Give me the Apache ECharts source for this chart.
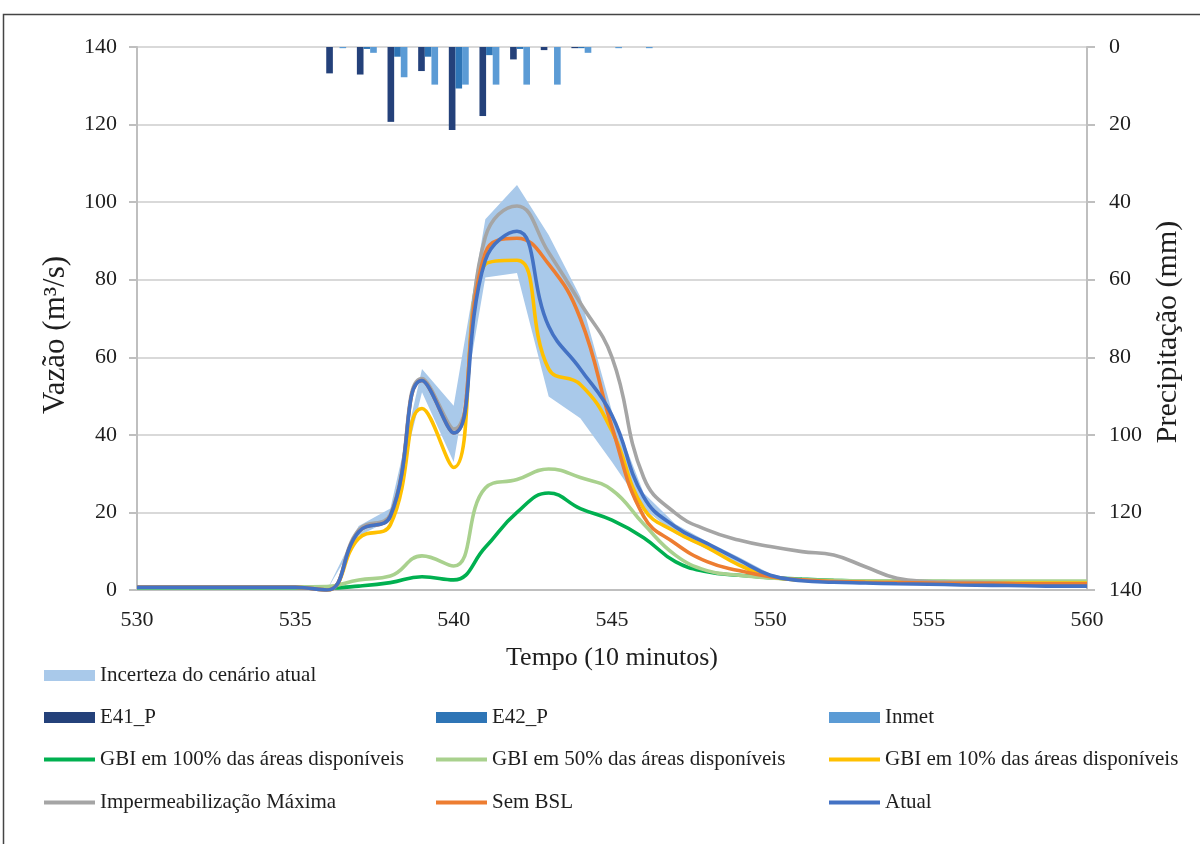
<!DOCTYPE html>
<html><head><meta charset="utf-8">
<script src="https://cdn.jsdelivr.net/npm/echarts@6/dist/echarts.min.js"></script>
<style>html,body{margin:0;padding:0;background:#fff}#c{width:1200px;height:844px}</style>
</head><body><div id="c"></div>
<script>
// ---- data ----
const tempo = [530,531,532,533,534,535,536,537,538,539,540,541,542,543,544,545,546,547,548,549,550,551,552,553,554,555,556,557,558,559,560];
const xTickLabels = [530,535,540,545,550,555,560];
const yLeftTicks = [0,20,40,60,80,100,120,140];

const incertezaInferior = [0.7,0.7,0.7,0.7,0.7,0.7,0,14,18,51,33,80.6,81.7,49.9,44.3,33,21,14.5,10.5,6.5,3.4,2.4,2.0,1.8,1.6,1.5,1.3,1.2,1.1,1.0,1.0];
const incertezaSuperior = [0.7,0.7,0.7,0.7,0.7,0.7,0,16.5,21,57,47.5,95.6,104.4,91.5,75.6,46,25,17,12.5,8.5,4.2,2.4,2.0,1.8,1.6,1.5,1.3,1.2,1.1,1.0,1.0];

const e41P  = [0,0,0,0,0,0,6.8,7.1,19.3,6.2,21.4,17.8,3.2,0.8,0.3,0,0,0,0,0,0,0,0,0,0,0,0,0,0,0,0];
const e42P  = [0,0,0,0,0,0,0,0.5,2.5,2.5,10.7,2.1,0.5,0,0.3,0,0,0,0,0,0,0,0,0,0,0,0,0,0,0,0];
const inmet = [0,0,0,0,0,0,0.3,1.5,7.8,9.7,9.7,9.7,9.7,9.7,1.5,0.3,0.3,0,0,0,0,0,0,0,0,0,0,0,0,0,0];

const gbi100 = [0.6,0.6,0.6,0.6,0.6,0.6,0.5,1.0,1.9,3.4,2.6,11,20,25,21,18,13.5,7.3,4.7,3.8,3.2,2.8,2.5,2.3,2.2,2.2,2.1,2.1,2.1,2.1,2.1];
const gbi50  = [0.8,0.8,0.8,0.8,0.8,0.8,0.9,2.6,3.6,8.8,6.2,26.3,28.5,31.2,29,25.8,17,9,5,3.8,3.1,2.7,2.5,2.4,2.4,2.3,2.3,2.3,2.3,2.3,2.3];
const gbi10  = [0.7,0.7,0.7,0.7,0.7,0.7,0,13.3,16.8,46.8,31.6,84,85,57,53,41,21,15,11,6.5,3.5,2.5,2.2,2.0,1.9,1.9,1.8,1.8,1.8,1.8,1.8];
const impermMax = [0.7,0.7,0.7,0.7,0.7,0.7,0,15.5,19.5,54.5,41.5,91,99,87,74,60,29,19.8,15.5,12.9,11.2,9.9,9.0,6.0,3.0,2.2,2.0,1.8,1.6,1.5,1.4];
const semBSL = [0.7,0.7,0.7,0.7,0.7,0.7,0,15,19,54,40.5,87,90.7,84,70,42,19,12,7.3,5.0,3.4,2.6,2.2,2.0,1.9,1.8,1.7,1.7,1.6,1.6,1.6];
const atual  = [0.7,0.7,0.7,0.7,0.7,0.7,0,15,19,54,40.5,85,92.5,68,57,45,24,16.3,12,7.8,3.8,2.4,2.0,1.8,1.6,1.5,1.3,1.2,1.1,1.0,1.0];

const names = {
  band: 'Incerteza do cenário atual',
  e41: 'E41_P', e42: 'E42_P', inmet: 'Inmet',
  g100: 'GBI em 100% das áreas disponíveis',
  g50: 'GBI em 50% das áreas disponíveis',
  g10: 'GBI em 10% das áreas disponíveis',
  imp: 'Impermeabilização Máxima',
  sem: 'Sem BSL',
  atual: 'Atual'
};
const titles = { x: 'Tempo (10 minutos)', yLeft: 'Vazão (m³/s)', yRight: 'Precipitação (mm)' };

// ---- chart ----
const FONT = '"Liberation Serif", "Times New Roman", serif';
const TXT = '#1e1e1e';
const pair = arr => tempo.map((t, i) => [t, arr[i]]);

const colors = {
  band: '#a9c9ea', e41: '#24417a', e42: '#2e75b6', inmet: '#5b9bd5',
  g100: '#00b050', g50: '#a9d18e', g10: '#ffc000', imp: '#a5a5a5', sem: '#ed7d31', atual: '#4472c4'
};

function lineSeries(key, arr) {
  return {
    name: names[key], type: 'line', xAxisIndex: 0, yAxisIndex: 0,
    data: pair(arr), smooth: 0.45, symbol: 'none', showSymbol: false,
    lineStyle: { color: colors[key], width: 3.6 }, itemStyle: { color: colors[key] },
    z: 5, animation: false
  };
}
function barSeries(key, arr) {
  return {
    name: names[key], type: 'bar', xAxisIndex: 1, yAxisIndex: 1,
    data: arr, barGap: '0%', barCategoryGap: '35%',
    itemStyle: { color: colors[key] }, z: 3, animation: false
  };
}

const legendCells = [
  { key: 'band', left: 44, top: 677, h: 11 },
  { key: 'e41', left: 44, top: 719, h: 11 },
  { key: 'e42', left: 436, top: 719, h: 11 },
  { key: 'inmet', left: 829, top: 719, h: 11 },
  { key: 'g100', left: 44, top: 761, h: 4 },
  { key: 'g50', left: 436, top: 761, h: 4 },
  { key: 'g10', left: 829, top: 761, h: 4 },
  { key: 'imp', left: 44, top: 804, h: 4 },
  { key: 'sem', left: 436, top: 804, h: 4 },
  { key: 'atual', left: 829, top: 804, h: 4 }
];

const option = {
  backgroundColor: '#fff',
  animation: false,
  textStyle: { fontFamily: FONT },
  graphic: [{
    type: 'rect', shape: { x: 3.5, y: 14.5, width: 1300, height: 1000 },
    style: { fill: 'none', stroke: '#444', lineWidth: 1.5 }, silent: true
  }, {
    type: 'text', x: 56, y: 335, rotation: Math.PI / 2, silent: true,
    style: { text: titles.yLeft, font: '31px ' + FONT, fill: TXT, align: 'center', verticalAlign: 'middle' }
  }, {
    type: 'text', x: 1168, y: 332, rotation: Math.PI / 2, silent: true,
    style: { text: titles.yRight, font: '30px ' + FONT, fill: TXT, align: 'center', verticalAlign: 'middle' }
  }],
  grid: { left: 137, right: 113, top: 47, bottom: 254, containLabel: false },
  legend: legendCells.map(c => ({
    data: [{ name: names[c.key], icon: 'rect' }],
    left: c.left, top: c.top - 12, padding: 0,
    itemWidth: 51, itemHeight: c.h, itemGap: 0,
    selectedMode: false,
    textStyle: { fontFamily: FONT, fontSize: 21, color: TXT }
  })),
  xAxis: [{
    type: 'value', min: 530, max: 560, interval: 5,
    name: titles.x, nameLocation: 'middle', nameGap: 55,
    nameTextStyle: { fontFamily: FONT, fontSize: 26, color: TXT },
    axisLine: { show: true, lineStyle: { color: '#bfbfbf', width: 2 } },
    axisTick: { show: false },
    splitLine: { show: false },
    axisLabel: { fontFamily: FONT, fontSize: 22, color: TXT, margin: 19,
      formatter: v => xTickLabels.includes(v) ? String(v) : '' }
  }, {
    type: 'category', data: tempo.map(String), show: false, boundaryGap: true, position: 'top'
  }],
  yAxis: [{
    type: 'value', min: 0, max: 140, interval: 20, position: 'left',
    axisLine: { show: true, lineStyle: { color: '#bfbfbf', width: 2 } },
    axisTick: { show: true, length: 8, lineStyle: { color: '#bfbfbf', width: 2 } },
    splitLine: { show: true, lineStyle: { color: '#d9d9d9', width: 2 } },
    axisLabel: { fontFamily: FONT, fontSize: 22, color: TXT, margin: 20,
      formatter: v => yLeftTicks.includes(v) ? String(v) : '' }
  }, {
    type: 'value', min: 0, max: 140, interval: 20, position: 'right', inverse: true,
    axisLine: { show: true, lineStyle: { color: '#bfbfbf', width: 2 } },
    axisTick: { show: true, length: 8, lineStyle: { color: '#bfbfbf', width: 2 } },
    splitLine: { show: false },
    axisLabel: { fontFamily: FONT, fontSize: 22, color: TXT, margin: 22 }
  }],
  series: [
    {
      name: names.band, type: 'custom', xAxisIndex: 0, yAxisIndex: 0,
      data: tempo.map((t, i) => [t, incertezaInferior[i], incertezaSuperior[i]]),
      encode: { x: 0, y: [1, 2] },
      itemStyle: { color: colors.band }, z: 1, animation: false, silent: true,
      renderItem: (params, api) => {
        if (params.dataIndex !== 0) return null;
        const up = tempo.map((t, i) => api.coord([t, incertezaSuperior[i]]));
        const lo = tempo.map((t, i) => api.coord([t, incertezaInferior[i]])).reverse();
        return { type: 'polygon', shape: { points: up.concat(lo) }, style: { fill: colors.band } };
      }
    },
    barSeries('e41', e41P),
    barSeries('e42', e42P),
    barSeries('inmet', inmet),
    lineSeries('g100', gbi100),
    lineSeries('g50', gbi50),
    lineSeries('g10', gbi10),
    lineSeries('imp', impermMax),
    lineSeries('sem', semBSL),
    lineSeries('atual', atual)
  ]
};

const chart = echarts.init(document.getElementById('c'), null, { renderer: 'canvas' });
chart.setOption(option);
</script>
</body></html>
